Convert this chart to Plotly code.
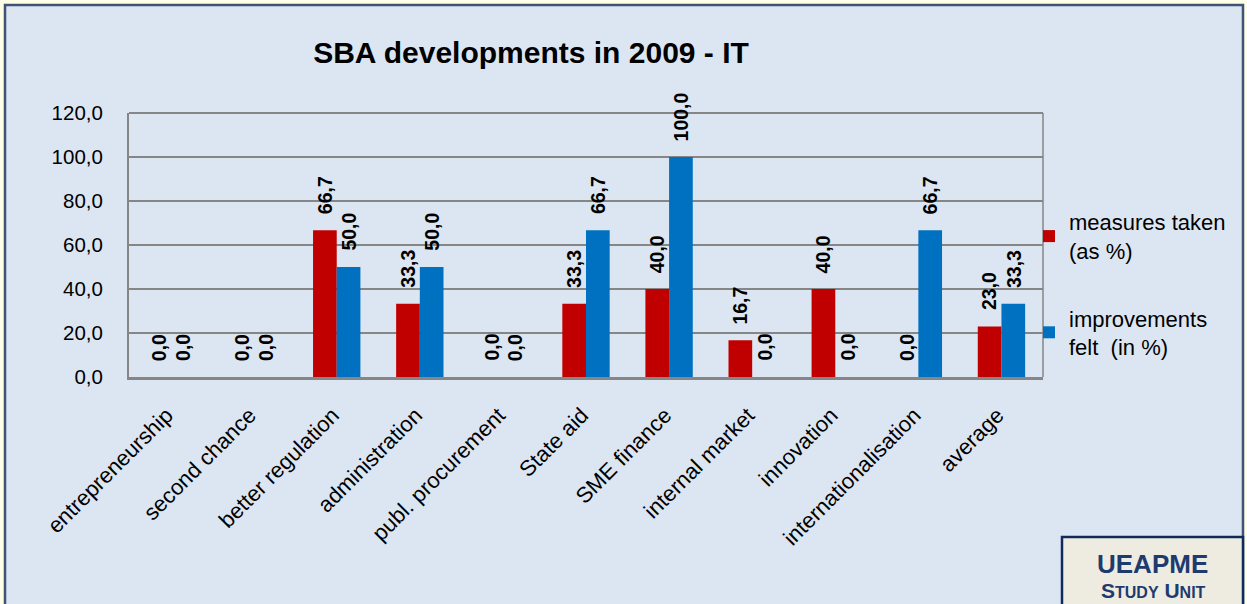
import plotly.graph_objects as go

categories = ["entrepreneurship", "second chance", "better regulation", "administration",
              "publ. procurement", "State aid", "SME finance", "internal market",
              "innovation", "internationalisation", "average"]
measures_taken = [0.0, 0.0, 66.7, 33.3, 0.0, 33.3, 40.0, 16.7, 40.0, 0.0, 23.0]
improvements_felt = [0.0, 0.0, 50.0, 50.0, 0.0, 66.7, 100.0, 0.0, 0.0, 66.7, 33.3]
y_ticks = [0, 20, 40, 60, 80, 100, 120]

FONT = "Liberation Sans, Arial, sans-serif"

# plot area pixel geometry
L, R, T, B = 129, 1043, 113, 377
PW, PH = R - L, B - T
BARGAP = 0.43

def px(x):
    return (x - L) / PW

def py(y):
    return (B - y) / PH

def fmt(v):
    return f"{v:.1f}".replace(".", ",")

fig = go.Figure()
fig.add_trace(go.Bar(
    x=categories, y=measures_taken, name="measures taken<br>(as %)",
    marker=dict(color="#C00000", line=dict(width=0)), legendgroup="a"))
fig.add_trace(go.Bar(
    x=categories, y=improvements_felt, name="improvements<br>felt  (in %)",
    marker=dict(color="#0070C0", line=dict(width=0)), legendgroup="b"))

# rotated data labels, placed above each bar of its group
bar_px = PW / len(categories) * (1 - BARGAP) / 2
for series, side in ((measures_taken, -0.5), (improvements_felt, 0.5)):
    for cat, v in zip(categories, series):
        fig.add_annotation(x=cat, y=v, xref="x", yref="y", text=f"<b>{fmt(v)}</b>",
                           textangle=-90, showarrow=False, xanchor="center", yanchor="bottom",
                           xshift=side * bar_px, yshift=14,
                           font=dict(family=FONT, size=19.5, color="black"))

fig.update_layout(
    width=1247, height=604,
    paper_bgcolor="#FFFFE8",
    plot_bgcolor="#EEECE1",
    separators=",.",
    barmode="group", bargap=BARGAP, bargroupgap=0,
    margin=dict(l=L, r=1247 - R, t=T, b=604 - B, autoexpand=False),
    font=dict(family=FONT, color="black"),
    title=dict(text="<b>SBA developments in 2009 - IT</b>", x=531 / 1247, xanchor="center",
               y=1 - 52 / 604, yanchor="middle", font=dict(size=30, family=FONT, color="black")),
    legend=dict(x=px(1029), y=py(201), xanchor="left", yanchor="top",
                font=dict(size=22, family=FONT, color="black"),
                bgcolor="rgba(0,0,0,0)", tracegroupgap=36),
    showlegend=True,
)
fig.update_yaxes(range=[0, 120], tickvals=y_ticks, tickformat=".1f",
                 showgrid=True, gridcolor="#868686", gridwidth=1.5,
                 showline=True, linecolor="#868686", linewidth=2,
                 ticks="", ticklabelstandoff=20,
                 tickfont=dict(size=20.5, family=FONT, color="black"),
                 zeroline=False)
fig.update_xaxes(tickangle=-45, tickfont=dict(size=22, family=FONT, color="black"),
                 ticklabelstandoff=14, ticklabelshift=-4,
                 showline=True, linecolor="#868686", linewidth=2.5, ticks="")

# outer chart frame
fig.add_shape(type="rect", xref="paper", yref="paper", layer="below",
              x0=px(5), x1=px(1243), y0=py(640), y1=py(5),
              fillcolor="#DCE6F2", line=dict(color="#3F5475", width=2.5))
# plot-area top / right border
fig.add_shape(type="line", xref="paper", yref="paper", x0=0, x1=1, y0=1, y1=1,
              line=dict(color="#868686", width=2))
fig.add_shape(type="line", xref="paper", yref="paper", x0=1, x1=1, y0=0, y1=1,
              line=dict(color="#868686", width=1.5))
# UEAPME box
fig.add_shape(type="rect", xref="paper", yref="paper",
              x0=px(1062), x1=px(1243), y0=py(640), y1=py(537),
              fillcolor="#EEECE1", line=dict(color="#102A5C", width=2.5))
fig.add_annotation(xref="paper", yref="paper", x=px(1152), y=py(564),
                   xanchor="center", yanchor="middle",
                   text="<b>UEAPME</b>", showarrow=False,
                   font=dict(size=26, color="#1F3A6E", family=FONT))
fig.add_annotation(xref="paper", yref="paper", x=px(1153), y=py(590),
                   xanchor="center", yanchor="middle",
                   text="<b>S<span style='font-size:16px'>TUDY</span> U<span style='font-size:16px'>NIT</span></b>",
                   showarrow=False, font=dict(size=21, color="#1F3A6E", family=FONT))

fig.write_html("out.html", config={"displayModeBar": False},
               post_script="document.body.style.margin='0';document.body.style.overflow='hidden';")
